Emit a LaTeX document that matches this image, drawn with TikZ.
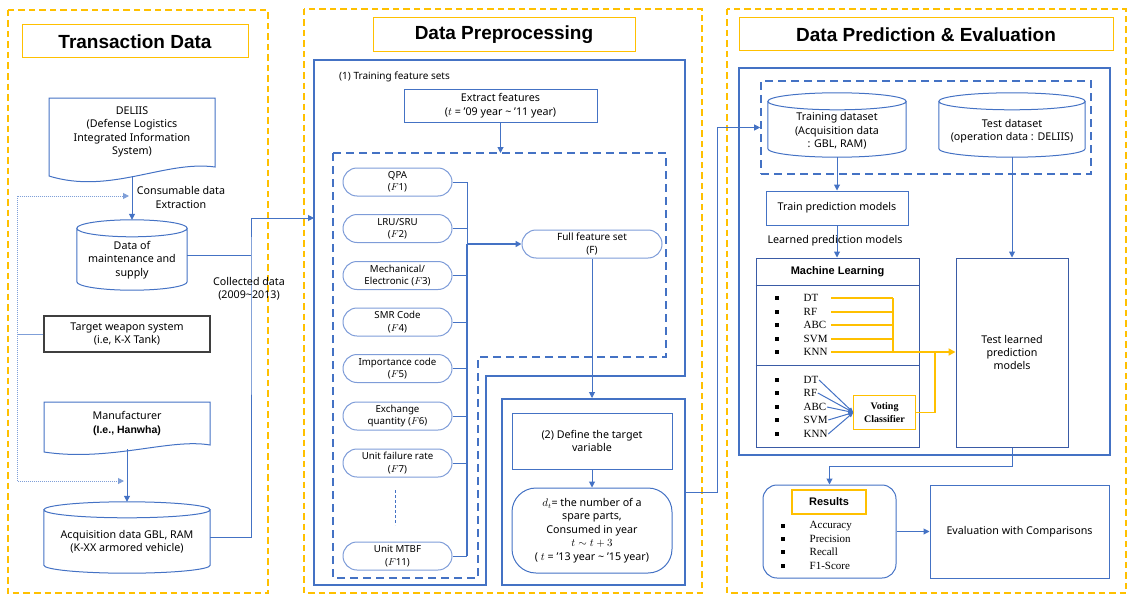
\documentclass[tikz,border=0pt]{standalone}
\usepackage{fontspec}
\setmainfont{Noto Sans}
\newfontfamily\listfont{Liberation Serif}
\newfontfamily\bsans{Liberation Sans}
\usetikzlibrary{arrows.meta,calc}

\definecolor{ublue}{HTML}{4472C4}
\definecolor{pblue}{HTML}{7E9CD8}
\definecolor{dblue}{HTML}{3A5BA6}
\definecolor{dotblue}{HTML}{7F9FD8}
\definecolor{uyel}{HTML}{FFC000}
\definecolor{ugray}{HTML}{3F3F3F}

% database drum drawn around a (hidden) rectangular node; #2 = half height of the lid
\newcommand\drawcyl[2]{%
  \draw[cylline] let \p1=(#1.north west), \p2=(#1.south east) in
    (\x1,\y1-#2pt) -- (\x1,\y2+#2pt)
    arc[start angle=180, end angle=360, x radius={(\x2-\x1)/2}, y radius=#2pt]
    -- (\x2,\y1-#2pt)
    ({(\x1+\x2)/2},\y1-#2pt) ellipse[x radius={(\x2-\x1)/2}, y radius=#2pt];}

\begin{document}
\begin{tikzpicture}[x=1pt, y=-1pt,
  every node/.style={inner sep=1pt, align=center, font=\fontsize{10.7}{13.4}\selectfont},
  sz/.style 2 args={minimum width=#1pt, minimum height=#2pt},
  panel/.style={draw=uyel, line width=2pt, dash pattern=on 6.5pt off 4pt},
  headbox/.style={draw=uyel, line width=1pt, font=\bsans\bfseries\fontsize{19}{22}\selectfont},
  yelbox/.style={draw=uyel, line width=1.4pt},
  box/.style={draw=ublue, line width=1pt},
  navybox/.style={draw=dblue, line width=1pt},
  thickbox/.style={draw=ublue, line width=2pt},
  dashbox/.style={draw=ublue, line width=1.6pt, dash pattern=on 8pt off 5pt},
  pill/.style={draw=pblue, line width=1pt, rounded corners=14pt, sz={109}{28}, font=\fontsize{9.7}{12.4}\selectfont},
  cylline/.style={draw=ublue, line width=1pt},
  docline/.style={draw=ublue, line width=1pt},
  link/.style={draw=ublue, line width=1pt},
  tip/.style={-{Triangle[length=6pt,width=6pt]}},
  arr/.style={link, tip},
  dotlink/.style={draw=dotblue, line width=1pt, dash pattern=on 1pt off 1pt},
  ylink/.style={draw=uyel, line width=1.2pt},
  item/.style={font=\listfont\fontsize{11}{13}\selectfont, inner sep=0.5pt, anchor=west},
  boldhead/.style={font=\bsans\bfseries\fontsize{11}{13}\selectfont},
]
\useasboundingbox (0,0) rectangle (1129,594);

% ---------- three stages ----------
\draw[panel] (8,10) rectangle (268,593);
\draw[panel] (304,9) rectangle (702,593);
\draw[panel] (727,9) rectangle (1126,593);

\node[headbox, sz={226}{33}] (h1) at (135,41.5) {Transaction Data};
\node[headbox, sz={262}{34}] (h2) at (504,35) {Data Preprocessing};
\node[headbox, sz={374}{33}] (h3) at (926,34.5) {Data Prediction \& Evaluation};

% ---------- transaction data ----------
\node[sz={166}{78}] (deliis) at (132,137) {};
\draw[docline] (49,176) -- (49,98) -- (215,98) -- (215,167)
  .. controls (165,160) and (110,195) .. (49,176) -- cycle;
\node (deliistxt) at (132,132) {DELIIS\\(Defense Logistics\\Integrated Information\\System)};

\node[sz={110}{70}] (dms) at (132,255) {};
\drawcyl{dms}{8.5}
\node (dmstxt) at (132,260) {Data of\\maintenance and\\supply};

\draw[arr] (deliis.south) -- (dms.north);
\node (extr) at (181,197.5) {Consumable data\\Extraction};

\node[draw=ugray, line width=1.2pt, sz={166}{36}] (tws) at (127,334) {Target weapon system\\(i.e, K-X Tank)};

\node[sz={166}{47}] (manu) at (127,425.5) {};
\draw[docline] (44,452) -- (44,402) -- (210,402) -- (210,445)
  .. controls (170,438) and (110,462) .. (44,452) -- cycle;
\node (manutxt) at (127,423.5) {Manufacturer\\{\bsans\bfseries\fontsize{10.5}{13.4}\selectfont (I.e., Hanwha)}};

\node[sz={166}{71}] (acq) at (127,537.5) {};
\drawcyl{acq}{8}
\node (acqtxt) at (127,542) {Acquisition data GBL, RAM\\(K-XX armored vehicle)};
\draw[arr] (manu.south) -- (acq.north);

\coordinate (cj) at (251,255);
\coordinate (pin) at (314,218);
\draw[link] (dms.east) -- (cj);
\draw[arr] (acq.east) -| (cj) |- (pin);
\node (coll) at (249,288.5) {Collected data\\(2009\textasciitilde2013)};

\coordinate (dj1) at (129,196);
\coordinate (dl) at (17,334);
\coordinate (dj2) at (124,481);
\draw[dotlink, {Triangle[length=6pt,width=6pt]}-{Triangle[length=6pt,width=6pt]}] (dj1) -| (dl) |- (dj2);
\draw[draw=dotblue, line width=1pt] (tws.west) -- (dl);

% ---------- data preprocessing ----------
\draw[thickbox] (314,60) -- (685,60) -- (685,376) -- (486,376) -- (486,585) -- (314,585) -- cycle;
\node[anchor=west, font=\fontsize{10}{12}\selectfont] (trfs) at (338,77) {(1) Training feature sets};
\node[box, sz={193}{33}] (ext) at (500.5,105.5) {Extract features\\($t$ = ’09 year \textasciitilde{} ’11 year)};
\draw[dashbox] (333,153) -- (666,153) -- (666,357) -- (478,357) -- (478,578) -- (333,578) -- cycle;
\coordinate (dtop) at (500.5,153);
\draw[arr] (ext.south) -- (dtop);

\node[pill] (f1) at (397.5,182) {QPA\\($F$1)};
\node[pill] (f2) at (397.5,228.5) {LRU/SRU\\($F$2)};
\node[pill] (f3) at (397.5,275.5) {Mechanical/\\Electronic ($F$3)};
\node[pill] (f4) at (397.5,322) {SMR Code\\($F$4)};
\node[pill] (f5) at (397.5,368.5) {Importance code\\($F$5)};
\node[pill] (f6) at (397.5,416) {Exchange\\quantity ($F$6)};
\node[pill] (f7) at (397.5,463) {Unit failure rate\\($F$7)};
\node[pill] (f11) at (397.5,556) {Unit MTBF\\($F$11)};
\draw[draw=ublue, line width=0.8pt, dash pattern=on 3pt off 2pt] (395,490) -- (395,525);

\coordinate (bus) at (467,182);
\foreach \f in {f1,f2,f3,f4,f5,f6,f7,f11} \draw[link] (\f.east) -- (\f.east -| bus);
\draw[link] (f1.east -| bus) -- (f11.east -| bus);
\node[pill, sz={140}{28}, font=\fontsize{10}{12.4}\selectfont] (full) at (592,244) {Full feature set\\(F)};
\draw[link, line width=1.8pt] (full.west -| bus) -- (f11.east -| bus);
\draw[arr, line width=1.8pt] (full.west -| bus) -- (full.west);

\node[thickbox, sz={183}{186}] (box2) at (593.5,492) {};
\draw[arr] (full.south) -- (full.south |- box2.north);
\node[box, sz={160}{56}] (tgt) at (592,441) {(2) Define the target\\variable};
\node[box, rounded corners=24pt, sz={160}{85}] (dt) at (592,530.5)
  {$d_t$= the number of a\\spare parts,\\Consumed in year\\$t \sim t+3$\\( $t$ = ’13 year \textasciitilde{} ’15 year)};
\draw[arr] (tgt.south) -- (dt.north);

% ---------- data prediction & evaluation ----------
\node[thickbox, sz={371}{387}] (pe) at (924.5,261.5) {};
\node[dashbox, sz={330}{93}] (dsb) at (926,127.5) {};
\node[sz={138}{64}] (trn) at (837,125) {};
\drawcyl{trn}{8.5}
\node (trntxt) at (837,131) {Training dataset\\(Acquisition data\\: GBL, RAM)};
\node[sz={146}{64}] (tst) at (1012,125) {};
\drawcyl{tst}{8.5}
\node (tsttxt) at (1012,131) {Test dataset\\(operation data : DELIIS)};

\node[box, sz={142}{34}] (trp) at (837,208) {Train prediction models};
\node (lpm) at (835,241) {Learned prediction models};

\node[navybox, sz={163}{189}] (ml) at (837.5,352.5) {};
\draw[navybox] ([yshift=-28pt]ml.north west) -- ([yshift=-28pt]ml.north east);
\draw[navybox] ([yshift=-108pt]ml.north west) -- ([yshift=-108pt]ml.north east);
\node[boldhead] (mlh) at (837.5,272) {Machine Learning};

\foreach \n/\t/\y in {u1/DT/298, u2/RF/312, u3/ABC/325, u4/SVM/339, u5/KNN/352} {
  \fill (775.25,\y-1.75) rectangle ++(3.5,3.5);
  \node[item, text width=27pt, align=left] (\n) at (803,\y) {\t};
}
\foreach \n/\t/\y in {v1/DT/380, v2/RF/393, v3/ABC/407, v4/SVM/420, v5/KNN/434} {
  \fill (775.25,\y-1.75) rectangle ++(3.5,3.5);
  \node[item] (\n) at (803,\y) {\t};
}
\node[sz={62}{34}, font=\listfont\bfseries\fontsize{10}{12.5}\selectfont] (vote) at (884.5,412.5) {Voting\\Classifier};
\draw[yelbox] (vote.south west) rectangle (vote.north east);
\foreach \n in {v1,v2,v3,v4,v5} \draw[link, -{Triangle[length=5pt,width=4pt]}] (\n.east) -- (vote.west);

\node[navybox, sz={112}{189}] (tlp) at (1012,352.5) {Test learned\\prediction\\models};

\coordinate (ybus) at (893,298);
\foreach \n in {u1,u2,u3,u4,u5} \draw[ylink] (\n.east) -- (\n.east -| ybus);
\draw[ylink] (u1.east -| ybus) -- (u5.east -| ybus);
\coordinate (vj) at (935,352);
\draw[ylink] (vote.east) -| (vj);
\draw[ylink, line width=2.2pt, -{Triangle[length=7pt,width=7pt]}] (u5.east -| ybus) -- (u5.east -| tlp.west);

\node[box, rounded corners=14pt, sz={133}{93}] (res) at (829.5,531.5) {};
\node[yelbox, line width=1.2pt, sz={74}{24}, boldhead] (resh) at (829,502) {Results};
\foreach \n/\t/\y in {r1/Accuracy/526, r2/Precision/539, r3/Recall/552, r4/F1-Score/566} {
  \fill (781.25,\y-1.75) rectangle ++(3.5,3.5);
  \node[item] (\n) at (809,\y) {\t};
}
\node[box, sz={179}{93}] (ev) at (1019.5,531.5) {Evaluation with Comparisons};

% ---------- connectors between stages ----------
\draw[arr] (box2.east) -- ++(31,0) |- (dsb.west);
\draw[arr] (trn.south) -- (trp.north);
\draw[arr] (trp.south) -- (trp.south |- ml.north);
\draw[arr] (tst.south) -- (tlp.north);
\draw[arr] (tlp.south) -- ++(0,19) -| (res.north);
\draw[arr] (res.east) -- (ev.west);
\end{tikzpicture}
\end{document}
